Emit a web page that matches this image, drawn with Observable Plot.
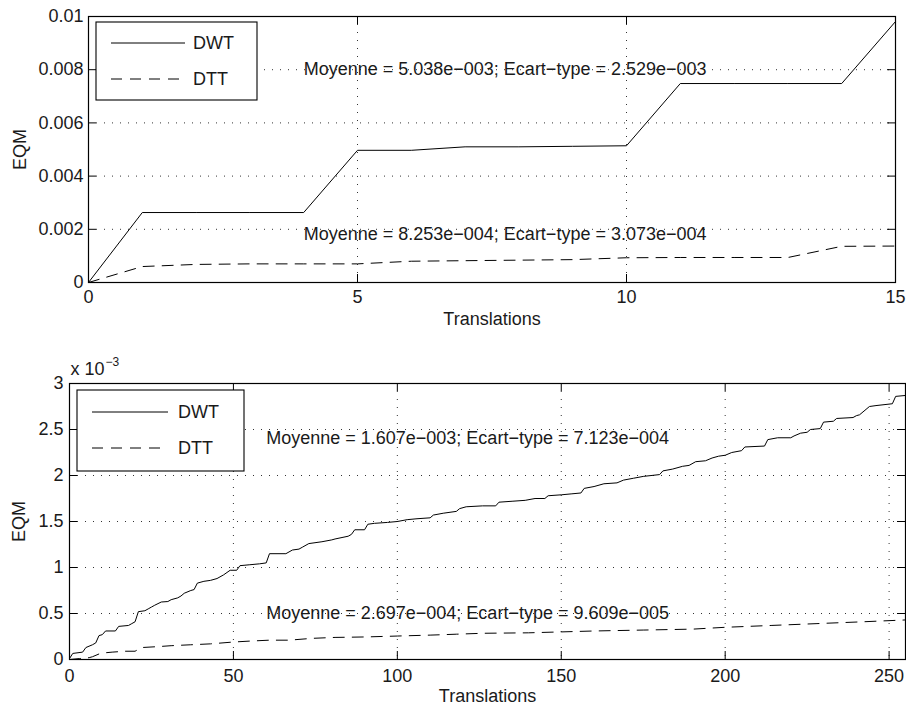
<!DOCTYPE html>
<html><head><meta charset="utf-8">
<script src="https://cdn.jsdelivr.net/npm/d3@7"></script>
<script src="https://cdn.jsdelivr.net/npm/@observablehq/plot@0.6"></script>
<style>
html,body{margin:0;padding:0;background:#fff;}
#top,#bottom{position:absolute;left:0;}
#top{top:0;} #bottom{top:330px;}
</style></head><body>
<div id="top"></div><div id="bottom"></div>
<script>
// ---------- data ----------
const seriesNames = ["DWT", "DTT"];
const xLabel = "Translations";
const yLabel = "EQM";

// top panel (16 translations)
const topX   = [0,1,2,3,4,5,6,7,8,9,10,11,12,13,14,15];
const topDWT = [0,0.00263,0.00263,0.00263,0.00263,0.00497,0.00497,0.0051,0.0051,0.00512,0.00514,0.00748,0.00748,0.00748,0.00748,0.00981];
const topDTT = [0,0.0006,0.00068,0.0007,0.0007,0.0007,0.0008,0.00082,0.00084,0.00086,0.00093,0.00094,0.00094,0.00094,0.00136,0.00137];
const topXTicks = [0,5,10,15];
const topYTicks = [0,0.002,0.004,0.006,0.008,0.01];
const topYTickLabels = ["0","0.002","0.004","0.006","0.008","0.01"];
const topStats = ["Moyenne = 5.038e\u2212003; Ecart\u2212type = 2.529e\u2212003",
                  "Moyenne = 8.253e\u2212004; Ecart\u2212type = 3.073e\u2212004"];
const topStatX = [4, 4];
const topStatY = [0.008, 0.0018];

// bottom panel (256 translations), values in units of 1e-3
const botDWTx = [0,1,4,5,7,8,9,10,11,14,15,18,19,20,21,23,24,25,26,28,30,31,33,34,35,37,38,39,41,43,45,47,49,51,52,55,58,60,61,66,68,70,71,73,77,80,81,85,86,87,90,91,93,97,100,103,106,110,111,114,118,119,121,126,130,131,135,139,142,145,146,150,153,156,157,160,163,167,169,172,175,180,181,184,187,189,191,194,196,198,200,202,205,206,212,213,216,220,221,223,225,226,229,230,233,234,239,240,241,244,246,251,252,255];
const botDWTy = [0.01,0.066,0.08,0.13,0.16,0.18,0.26,0.27,0.31,0.31,0.36,0.37,0.39,0.41,0.52,0.53,0.55,0.57,0.59,0.625,0.63,0.65,0.67,0.69,0.72,0.75,0.76,0.83,0.85,0.86,0.88,0.92,0.97,0.97,1.02,1.03,1.04,1.05,1.15,1.15,1.19,1.20,1.22,1.26,1.28,1.30,1.31,1.34,1.36,1.41,1.41,1.47,1.48,1.49,1.50,1.52,1.53,1.54,1.57,1.59,1.61,1.64,1.66,1.67,1.67,1.71,1.72,1.73,1.75,1.75,1.78,1.79,1.80,1.81,1.86,1.88,1.91,1.92,1.95,1.97,1.99,2.01,2.05,2.07,2.10,2.11,2.15,2.16,2.19,2.21,2.22,2.25,2.27,2.31,2.32,2.39,2.41,2.41,2.43,2.46,2.47,2.50,2.51,2.58,2.59,2.62,2.63,2.65,2.66,2.75,2.76,2.78,2.86,2.87];
const botDTTx = [0,3,6,7,9,10,13,17,20,22,27,31,37,43,50,55,61,67,74,81,90,100,110,118,126,140,150,160,175,190,200,214,228,242,255];
const botDTTy = [0,0.01,0.02,0.03,0.06,0.07,0.08,0.09,0.09,0.13,0.14,0.15,0.16,0.17,0.19,0.20,0.21,0.21,0.23,0.24,0.245,0.255,0.265,0.275,0.285,0.29,0.30,0.31,0.32,0.33,0.35,0.37,0.39,0.41,0.43];
const botXTicks = [0,50,100,150,200,250];
const botYTicks = [0,0.5,1,1.5,2,2.5,3];
const botYTickLabels = ["0","0.5","1","1.5","2","2.5","3"];
const botMultiplier = ["x 10", "\u22123"];
const botStats = ["Moyenne = 1.607e\u2212003; Ecart\u2212type = 7.123e\u2212004",
                  "Moyenne = 2.697e\u2212004; Ecart\u2212type = 9.609e\u2212005"];
const botStatX = [60, 60];
const botStatY = [2.4, 0.5];

// ---------- drawing ----------
const FONT = "'Liberation Sans', Arial, Helvetica, sans-serif";
const FS = "18px";
const INK = "#1a1a1a";

function panel(o) {
  const iw = o.width - o.ml - o.mr, ih = o.height - o.mt - o.mb, tk = 8;
  const dwt = o.dwtX.map((t, i) => ({t, v: o.dwtY[i]}));
  const dtt = o.dttX.map((t, i) => ({t, v: o.dttY[i]}));
  const idx = o.stats.map((_, i) => i);
  const marks = [
    Plot.gridX(o.xTicks, {stroke: "#000", strokeOpacity: 0.8, strokeDasharray: "1,7"}),
    Plot.gridY(o.yTicks, {stroke: "#000", strokeOpacity: 0.8, strokeDasharray: "1,7"}),
    Plot.tickX(o.xTicks, {x: d => d, insetTop: ih - tk, stroke: "#000"}),
    Plot.tickX(o.xTicks, {x: d => d, insetBottom: ih - tk, stroke: "#000"}),
    Plot.tickY(o.yTicks, {y: d => d, insetRight: iw - tk, stroke: "#000"}),
    Plot.tickY(o.yTicks, {y: d => d, insetLeft: iw - tk, stroke: "#000"}),
    Plot.line(dwt, {x: "t", y: "v", stroke: "#000", strokeWidth: 1}),
    Plot.line(dtt, {x: "t", y: "v", stroke: "#000", strokeWidth: 1, strokeDasharray: "11,8"}),
    Plot.text(idx, {x: i => o.statX[i], y: i => o.statY[i], text: i => o.stats[i], textAnchor: "start", lineAnchor: "middle", fill: INK}),
    Plot.axisX(o.xTicks, {anchor: "bottom", tickSize: 0, tickPadding: o.xPad, label: null, tickFormat: d => String(d), fill: INK}),
    Plot.axisY(o.yTicks, {anchor: "left", tickSize: 0, tickPadding: o.yPad, label: null, tickFormat: d => o.yLabels[o.yTicks.indexOf(d)], fill: INK}),
    Plot.text([xLabel], {frameAnchor: "bottom", dy: o.xLabelDy, textAnchor: "middle", lineAnchor: "middle", text: d => d, fill: INK}),
    Plot.text([yLabel], {frameAnchor: "left", dx: o.yLabelDx, rotate: -90, textAnchor: "middle", lineAnchor: "middle", text: d => d, fill: INK}),
    Plot.frame({stroke: "#000", strokeWidth: 1.2})
  ];
  if (o.multiplier) {
    marks.push(Plot.text([o.multiplier[0]], {frameAnchor: "top-left", dx: 1, dy: -14, textAnchor: "start", lineAnchor: "middle", text: d => d, fill: INK}));
    marks.push(Plot.text([o.multiplier[1]], {frameAnchor: "top-left", dx: 36, dy: -21.5, textAnchor: "start", lineAnchor: "middle", fontSize: 12, text: d => d, fill: INK}));
  }
  const svg = Plot.plot({
    width: o.width, height: o.height,
    marginLeft: o.ml, marginRight: o.mr, marginTop: o.mt, marginBottom: o.mb,
    style: {fontFamily: FONT, fontSize: FS, background: "#fff", overflow: "visible"},
    x: {domain: o.xDomain},
    y: {domain: o.yDomain},
    marks
  });
  // legend box
  const L = o.legend, g = d3.select(svg).append("g").attr("text-anchor", "start");
  g.append("rect").attr("x", o.ml + L.x).attr("y", o.mt + L.y).attr("width", L.w).attr("height", L.h)
    .attr("fill", "#fff").attr("stroke", "#000").attr("stroke-width", 1.1);
  seriesNames.forEach((name, i) => {
    const yy = o.mt + L.rows[i];
    g.append("line").attr("x1", o.ml + L.lx1).attr("x2", o.ml + L.lx2).attr("y1", yy).attr("y2", yy)
      .attr("stroke", "#000").attr("stroke-width", 1).attr("stroke-dasharray", i === 1 ? "11,8" : null);
    g.append("text").attr("x", o.ml + L.tx).attr("y", yy).attr("dy", "0.35em").attr("text-anchor", "start")
      .attr("fill", INK).style("font-family", FONT).style("font-size", FS).text(name);
  });
  return svg;
}

document.getElementById("top").appendChild(panel({
  width: 906, height: 330, ml: 88, mr: 11, mt: 16, mb: 48,
  xDomain: [0, 15], yDomain: [0, 0.01],
  dwtX: topX, dwtY: topDWT, dttX: topX, dttY: topDTT,
  xTicks: topXTicks, yTicks: topYTicks, yLabels: topYTickLabels,
  stats: topStats, statX: topStatX, statY: topStatY,
  xPad: 8, yPad: 5, xLabelDy: 37, yLabelDx: -68,
  legend: {x: 8, y: 6, w: 161, h: 78, rows: [27, 63], lx1: 23, lx2: 97, tx: 105}
}));

document.getElementById("bottom").appendChild(panel({
  width: 906, height: 376, ml: 69, mr: 1, mt: 53, mb: 47,
  xDomain: [0, 255], yDomain: [0, 3],
  dwtX: botDWTx, dwtY: botDWTy, dttX: botDTTx, dttY: botDTTy,
  xTicks: botXTicks, yTicks: botYTicks, yLabels: botYTickLabels,
  stats: botStats, statX: botStatX, statY: botStatY,
  xPad: 10, yPad: 6, xLabelDy: 37, yLabelDx: -50.5,
  legend: {x: 8, y: 7, w: 167, h: 81, rows: [29, 65], lx1: 23, lx2: 99, tx: 109},
  multiplier: botMultiplier
}));
</script>
</body></html>
